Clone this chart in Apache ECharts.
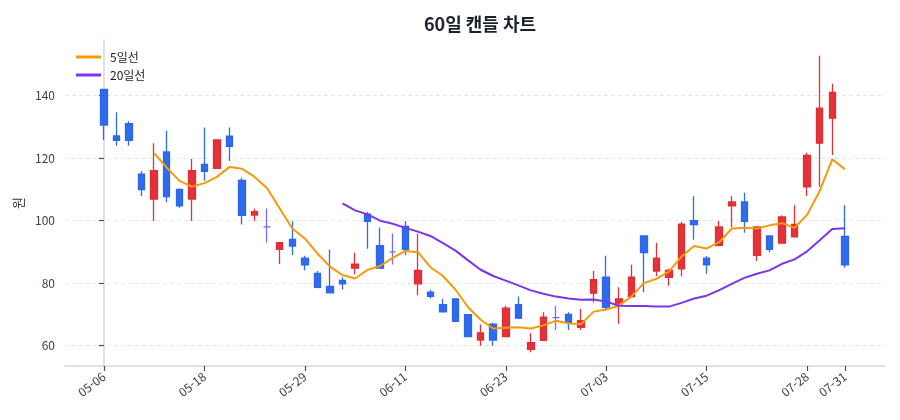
<!DOCTYPE html>
<html lang="ko">
<head>
    <meta charset="UTF-8">
    <script src="https://cdn.jsdelivr.net/npm/echarts@6.0.0/dist/echarts.min.js"></script>
    <title>60일 캔들 차트</title>
    <style>
        html, body { margin: 0; padding: 0; background: #fff; }
        #chart { width: 900px; height: 420px; }
    </style>
</head>
<body>
<div id="chart"></div>
<script type="text/javascript">
    // 날짜 (60 거래일)
    var dates = [
        '05-06', '05-07', '05-08', '05-09', '05-12', '05-13', '05-14', '05-15', '05-18', '05-19',
        '05-20', '05-21', '05-22', '05-25', '05-26', '05-27', '05-29', '06-01', '06-02', '06-03',
        '06-04', '06-05', '06-08', '06-09', '06-11', '06-12', '06-15', '06-16', '06-17', '06-18',
        '06-19', '06-22', '06-23', '06-24', '06-25', '06-26', '06-29', '06-30', '07-01', '07-02',
        '07-03', '07-06', '07-07', '07-08', '07-09', '07-10', '07-13', '07-14', '07-15', '07-16',
        '07-17', '07-20', '07-21', '07-22', '07-23', '07-24', '07-28', '07-29', '07-30', '07-31'
    ];
    var openPrices = [
        142, 127.1, 131, 114.9, 106.9, 122, 110, 106.9, 118, 116.7,
        127, 112.9, 101.8, 98, 90.8, 94, 88, 83.1, 79, 80.9,
        84.8, 102.1, 92, 90, 98.2, 79.8, 77.1, 73.1, 75, 69.9,
        61.8, 66.9, 62.9, 73.1, 58.8, 61.7, 69, 70, 65.9, 76.8,
        81.9, 73.4, 75.7, 95.1, 83.9, 81.9, 84.6, 100, 88, 92.1,
        104.7, 106, 88.9, 95.1, 92.8, 94.8, 110.8, 124.8, 132.8, 95
    ];
    var closePrices = [
        130.6, 125.7, 125.7, 109.9, 116, 107.7, 104.7, 116, 115.8, 125.8,
        123.8, 101.7, 102.9, 98, 93, 91.9, 85.9, 78.7, 76.9, 79.8,
        86.1, 99.8, 84.8, 90, 90.8, 84.1, 75.8, 70.8, 67.8, 62.9,
        64.1, 61.8, 72, 68.8, 61, 69.1, 69, 67.5, 68, 81.1,
        72.3, 75, 81.9, 89.8, 88, 84.1, 98.9, 98.7, 85.9, 98,
        106, 99.8, 98, 90.8, 101.2, 98.8, 120.9, 136, 141, 85.9
    ];
    var lowPrices = [
        125.8, 124, 124, 107.9, 99.9, 105.9, 104.1, 99.9, 112.8, 116.5,
        119.1, 98.8, 100, 93, 86.1, 89, 84.1, 78.4, 76.9, 78,
        82.9, 91, 84.8, 86, 88.9, 76.1, 75.1, 70.7, 67.8, 62.9,
        60, 60, 62.9, 68.8, 57.9, 61.7, 65, 65, 65, 73.9,
        71.7, 67, 75.5, 77.1, 82.2, 79.2, 82.2, 93.9, 83, 91.8,
        98, 96.1, 87.1, 89.9, 92.6, 94.7, 107.9, 110.8, 121, 84.9
    ];
    var highPrices = [
        142, 134.7, 131.8, 115.9, 124.8, 128.8, 110.3, 119.7, 129.8, 126,
        129.8, 113.7, 103.9, 103.9, 93.2, 99.8, 88.8, 83.9, 90.8, 81.9,
        89.7, 102.8, 97.8, 95.9, 99.9, 95.9, 77.9, 74.9, 75, 70,
        66.8, 67.3, 72.8, 75.7, 64, 70.7, 72.8, 70.7, 71.7, 83.9,
        88.8, 78.7, 85.9, 95.1, 92.9, 84.6, 99.6, 107.8, 88.7, 99.9,
        107.8, 108.9, 98.2, 95.2, 101.7, 104.9, 121.7, 152.8, 143.8, 104.9
    ];
    // 이동평균선 (그림에서 읽은 값, 앞부분은 없음)
    var ma5 = [
        null, null, null, null, 121.6, 117, 112.8, 110.9, 112, 114,
        117.2, 116.6, 114, 110.4, 103.9, 97.5, 94.3, 89.5, 85.3, 82.6,
        81.5, 84.3, 85.5, 88.1, 90.3, 89.9, 85.1, 82.3, 77.9, 72.3,
        68.3, 65.5, 65.7, 65.9, 65.5, 66.5, 68, 67.1, 66.9, 70.9,
        71.6, 72.8, 75.7, 80, 81.4, 83.8, 88.5, 91.9, 91.1, 93.1,
        97.5, 97.7, 97.5, 98.5, 99.2, 97.7, 101.9, 109.5, 119.6, 116.5
    ];
    var ma20 = [
        null, null, null, null, null, null, null, null, null, null,
        null, null, null, null, null, null, null, null, null, 105.5,
        103.3, 102, 100, 99, 97.7, 96.5, 95.1, 92.8, 90.4, 87.3,
        84.3, 82.3, 80.8, 79.3, 77.7, 76.6, 75.7, 75.1, 74.7, 74.8,
        74.1, 72.8, 72.7, 72.7, 72.5, 72.5, 73.7, 75.1, 76, 77.8,
        79.8, 81.7, 83, 84.1, 86.2, 87.6, 90.2, 93.7, 97.3, 97.6
    ];
    var xTicks = [0, 8, 16, 24, 32, 40, 48, 56, 59];
    var yTicks = [60, 80, 100, 120, 140];

    var upColor = '#e0282e';
    var downColor = '#2563eb';
    var flatColor = '#6e64f2';
    var fontFamily = '"Noto Sans CJK KR", "Noto Sans", sans-serif';

    var candleData = [];
    var ma5Data = [];
    var ma20Data = [];
    for (let i = 0; i < dates.length; i++) {
        let item = { value: [i, openPrices[i], closePrices[i], lowPrices[i], highPrices[i]] };
        if (openPrices[i] === closePrices[i]) {
            item.itemStyle = { color: flatColor, color0: flatColor, borderColor: flatColor, borderColor0: flatColor };
        }
        candleData.push(item);
        if (ma5[i] != null) ma5Data.push([i, ma5[i]]);
        if (ma20[i] != null) ma20Data.push([i, ma20[i]]);
    }

    var chart = echarts.init(document.getElementById('chart'));
    var option = {
        animation: false,
        textStyle: { fontFamily: fontFamily },
        title: {
            text: '60일 캔들 차트',
            left: 475,
            textAlign: 'center',
            top: 10,
            textStyle: { fontSize: 18, fontWeight: 'bold', color: '#1c2130', fontFamily: fontFamily }
        },
        legend: {
            orient: 'vertical',
            left: 76,
            top: 51,
            padding: 0,
            itemWidth: 25,
            itemHeight: 3,
            itemGap: 6,
            icon: 'rect',
            data: ['5일선', '20일선'],
            textStyle: { fontSize: 12, color: '#222', padding: [0, 0, 0, 4], fontFamily: fontFamily }
        },
        grid: { left: 65, right: 15, top: 40, bottom: 54 },
        xAxis: {
            type: 'value',
            min: -3.1,
            max: 62.2,
            axisLine: { show: true, lineStyle: { color: '#d3d7de', width: 1.5 } },
            axisTick: { show: true, customValues: xTicks, length: 5, lineStyle: { color: '#4a5060', width: 1.2 } },
            axisLabel: {
                customValues: xTicks,
                rotate: 38,
                margin: 9,
                fontSize: 12,
                color: '#3d4350',
                formatter: function (v) { return dates[Math.round(v)]; }
            },
            splitLine: { show: false }
        },
        yAxis: {
            type: 'value',
            min: 53.5,
            max: 157.8,
            name: '원',
            nameLocation: 'middle',
            nameGap: 40,
            nameTextStyle: { fontSize: 13, color: '#333' },
            axisLine: { show: true, lineStyle: { color: '#d3d7de', width: 1.5 } },
            axisTick: { show: true, customValues: yTicks, length: 5, lineStyle: { color: '#4a5060', width: 1.2 } },
            axisLabel: { customValues: yTicks, margin: 10, fontSize: 12, color: '#3d4350' },
            splitLine: { show: true, lineStyle: { color: '#e4e7ec', type: [4, 3], width: 1 } }
        },
        series: [
            {
                name: '캔들',
                type: 'candlestick',
                barWidth: 7,
                data: candleData,
                itemStyle: {
                    color: upColor,
                    color0: downColor,
                    borderColor: upColor,
                    borderColor0: downColor,
                    borderWidth: 1.3,
                    opacity: 0.95
                }
            },
            {
                name: '5일선',
                type: 'line',
                data: ma5Data,
                showSymbol: false,
                color: '#f59a0a',
                lineStyle: { width: 2, color: '#f59a0a' }
            },
            {
                name: '20일선',
                type: 'line',
                data: ma20Data,
                showSymbol: false,
                color: '#7b35ea',
                lineStyle: { width: 2, color: '#7b35ea' }
            }
        ]
    };
    chart.setOption(option);
</script>
</body>
</html>
